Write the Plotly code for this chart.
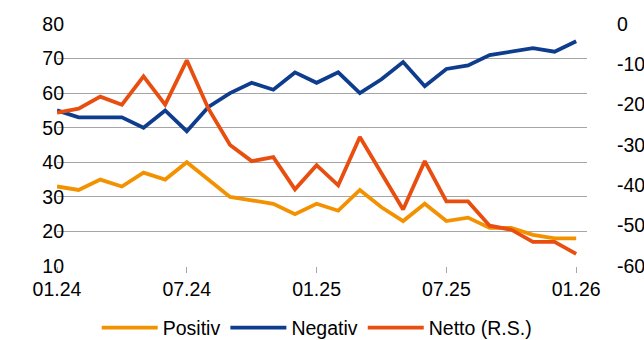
import plotly.graph_objects as go

months = ["01.24","02.24","03.24","04.24","05.24","06.24","07.24","08.24","09.24","10.24","11.24","12.24",
          "01.25","02.25","03.25","04.25","05.25","06.25","07.25","08.25","09.25","10.25","11.25","12.25","01.26"]
positiv = [33,32,35,33,37,35,40,35,30,29,28,25,28,26,32,27,23,28,23,24,21,21,19,18,18]
negativ = [55,53,53,53,50,55,49,56,60,63,61,66,63,66,60,64,69,62,67,68,71,72,73,72,75]
netto = [-22,-21,-18,-20,-13,-20,-9,-21,-30,-34,-33,-41,-35,-40,-28,-37,-46,-34,-44,-44,-50,-51,-54,-54,-57]
tick_labels = ["01.24","07.24","01.25","07.25","01.26"]
right_tickvals = [-60, -50, -40, -30, -20, -10, 0]
right_ticktext = ["-60", "-50", "-40", "-30", "-20", "-10", "0"]

font = "Liberation Sans, Arial, sans-serif"
fig = go.Figure()
fig.add_trace(go.Scatter(x=months, y=positiv, name="Positiv", mode="lines",
                         line=dict(color="#F39200", width=3.8)))
fig.add_trace(go.Scatter(x=months, y=negativ, name="Negativ", mode="lines",
                         line=dict(color="#0E3D8E", width=3.8)))
fig.add_trace(go.Scatter(x=months, y=netto, name="Netto (R.S.)", mode="lines",
                         line=dict(color="#E84E0F", width=3.8), yaxis="y2"))

fig.update_layout(
    width=644, height=340,
    margin=dict(l=57, r=57, t=24, b=74, autoexpand=False),
    plot_bgcolor="white", paper_bgcolor="white",
    font=dict(family=font, size=19.5, color="#000000"),
    showlegend=True,
    legend=dict(orientation="h", x=0.49, xanchor="center", y=-0.256, yanchor="middle",
                font=dict(size=19.5), itemwidth=56, tracegroupgap=0),
    xaxis=dict(type="category", range=[0, 24.5], tickvals=[months[i] for i in (0,6,12,18,24)],
               ticktext=tick_labels, showgrid=False, ticks="outside", ticklen=6,
               tickcolor="#A6A6A6", showline=False, zeroline=False),
    yaxis=dict(range=[10, 80], dtick=10, showgrid=True, gridcolor="#A6A6A6", gridwidth=1,
               zeroline=False, showline=False, ticks="", ticklen=0, ticklabelstandoff=-8),
    yaxis2=dict(range=[-60, 0], tickvals=right_tickvals, ticktext=right_ticktext,
                overlaying="y", side="right", showgrid=False,
                zeroline=False, showline=False, ticks="", ticklen=0, ticklabelstandoff=29),
)
fig.write_html("out.html")
